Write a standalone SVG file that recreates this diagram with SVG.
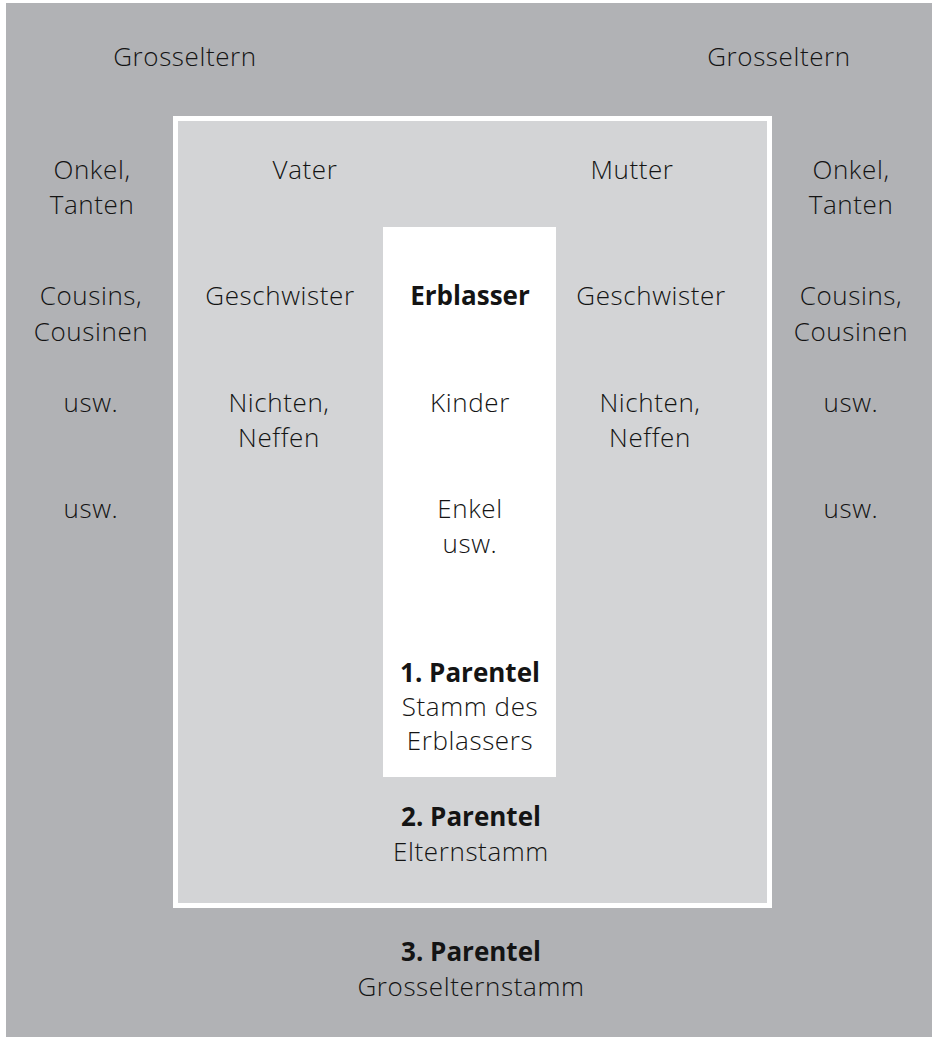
<svg xmlns="http://www.w3.org/2000/svg" width="932" height="1037" viewBox="0 0 932 1037">
<style>
text{font-family:"Open Sans","Noto Sans","Liberation Sans",sans-serif;font-size:26px;font-weight:300;fill:#141414;text-anchor:middle;letter-spacing:0.6px}
.b{font-weight:700;letter-spacing:0}
</style>
<rect x="0" y="0" width="932" height="1037" fill="#ffffff"/>
<g id="parentel3">
<rect x="6" y="3" width="926" height="1034" fill="#b1b2b5"/>
</g>
<g id="parentel2">
<rect x="175.5" y="118.5" width="594" height="787" fill="#d3d4d6" stroke="#ffffff" stroke-width="5"/>
</g>
<g id="parentel1">
<rect x="383" y="227" width="173" height="550" fill="#ffffff"/>
</g>
<g id="connectors"></g>
<g id="grosseltern-left"><text x="185" y="66">Grosseltern</text></g>
<g id="grosseltern-right"><text x="779" y="66">Grosseltern</text></g>
<g id="onkel-left"><text x="92" y="179">Onkel,</text><text x="92" y="214">Tanten</text></g>
<g id="onkel-right"><text x="851" y="179">Onkel,</text><text x="851" y="214">Tanten</text></g>
<g id="vater"><text x="305" y="179">Vater</text></g>
<g id="mutter"><text x="632" y="179">Mutter</text></g>
<g id="cousins-left"><text x="91" y="305">Cousins,</text><text x="91" y="341">Cousinen</text></g>
<g id="cousins-right"><text x="851" y="305">Cousins,</text><text x="851" y="341">Cousinen</text></g>
<g id="geschwister-left"><text x="280" y="305">Geschwister</text></g>
<g id="geschwister-right"><text x="651" y="305">Geschwister</text></g>
<g id="erblasser"><text class="b" x="470" y="305">Erblasser</text></g>
<g id="usw1-left"><text x="91" y="412">usw.</text></g>
<g id="usw1-right"><text x="851" y="412">usw.</text></g>
<g id="nichten-left"><text x="279" y="412">Nichten,</text><text x="279" y="447">Neffen</text></g>
<g id="nichten-right"><text x="650" y="412">Nichten,</text><text x="650" y="447">Neffen</text></g>
<g id="kinder"><text x="470" y="412">Kinder</text></g>
<g id="usw2-left"><text x="91" y="518">usw.</text></g>
<g id="usw2-right"><text x="851" y="518">usw.</text></g>
<g id="enkel"><text x="470" y="518">Enkel</text><text x="470" y="553">usw.</text></g>
<g id="label1"><text class="b" x="470" y="682">1. Parentel</text><text x="470" y="716">Stamm des</text><text x="470" y="750">Erblassers</text></g>
<g id="label2"><text class="b" x="471" y="826">2. Parentel</text><text x="471" y="861">Elternstamm</text></g>
<g id="label3"><text class="b" x="471" y="961">3. Parentel</text><text x="471" y="996">Grosselternstamm</text></g>
</svg>
